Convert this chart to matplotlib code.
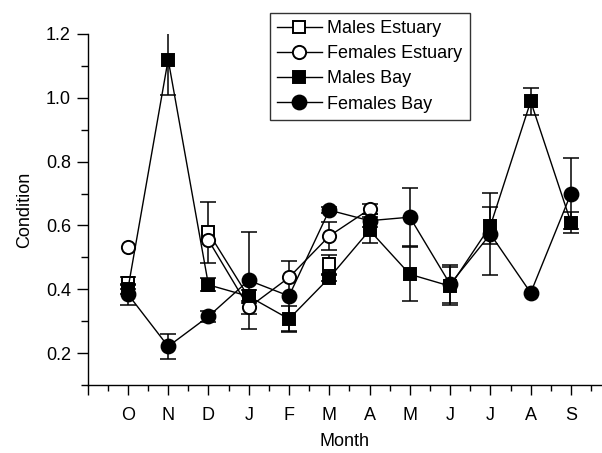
import numpy as np
import matplotlib
matplotlib.use("Agg")
import matplotlib.pyplot as plt
from matplotlib.ticker import MultipleLocator

plt.rcParams['font.family'] = ['Liberation Sans', 'DejaVu Sans']

months = ['O', 'N', 'D', 'J', 'F', 'M', 'A', 'M', 'J', 'J', 'A', 'S']
nan = np.nan

# condition values (nan = no sample)
males_est = [0.42, nan, 0.578, 0.375, nan, 0.478, nan, nan, nan, nan, nan, nan]
males_est_err = [0.02, nan, 0.095, nan, nan, 0.03, nan, nan, nan, nan, nan, nan]
females_est = [0.531, nan, 0.554, 0.343, 0.437, 0.567, 0.651, nan, nan, nan, nan, nan]
females_est_err = [nan, nan, nan, 0.02, nan, 0.045, 0.015, nan, nan, nan, nan, nan]
males_bay = [0.40, 1.12, 0.414, 0.378, 0.307, 0.436, 0.585, 0.447, 0.41, 0.599, 0.989, 0.609]
males_bay_err = [0.015, 0.11, 0.02, 0.02, 0.04, 0.01, 0.04, 0.085, 0.06, 0.058, 0.042, 0.033]
females_bay = [0.385, 0.221, 0.315, 0.428, 0.379, 0.648, 0.615, 0.626, 0.416, 0.573, 0.389, 0.70]
females_bay_err = [0.033, 0.04, 0.018, 0.153, 0.11, 0.01, 0.02, 0.09, 0.06, 0.128, nan, 0.11]

x = np.arange(1, len(months) + 1)

fig = plt.figure(figsize=(6.02, 4.53), dpi=100)
ax = fig.add_axes([0.1455, 0.150, 1 - 0.1455, 0.775])

series = [
    (males_est, males_est_err, 's', 'white', 8, 'Males Estuary'),
    (females_est, females_est_err, 'o', 'white', 9.5, 'Females Estuary'),
    (males_bay, males_bay_err, 's', 'black', 8, 'Males Bay'),
    (females_bay, females_bay_err, 'o', 'black', 10, 'Females Bay'),
]

for vals, err, mk, face, ms, lab in series:
    vals = np.array(vals)
    err = np.array(err)
    ax.errorbar(x, vals, yerr=err, fmt='none', ecolor='black', elinewidth=1.1,
                capsize=5.5, capthick=1.1, zorder=2)
    ax.plot(x, vals, color='black', lw=1.0, marker=mk, markersize=ms,
            markerfacecolor=face, markeredgecolor='black', markeredgewidth=1.4,
            label=lab, zorder=3)

ax.set_xlim(0, 12.77)
ax.set_ylim(0.1, 1.2)
ax.set_xticks(np.arange(0, 13))
ax.set_xticklabels([''] + months)
ax.xaxis.set_minor_locator(MultipleLocator(0.5))
ax.yaxis.set_minor_locator(MultipleLocator(0.1))
ax.set_yticks([0.2, 0.4, 0.6, 0.8, 1.0, 1.2])
ax.set_yticklabels(['0.2', '0.4', '0.6', '0.8', '1.0', '1.2'])

for s in ['top', 'right']:
    ax.spines[s].set_visible(False)
ax.spines['left'].set_linewidth(1.0)
ax.spines['bottom'].set_linewidth(1.0)

ax.tick_params(axis='y', which='major', direction='out', length=8, width=1, labelsize=13, pad=4)
ax.tick_params(axis='y', which='minor', direction='out', length=5, width=1)
ax.tick_params(axis='x', which='major', direction='out', length=7, width=1, labelsize=13, pad=9)
ax.tick_params(axis='x', which='minor', direction='out', length=4, width=1)

ax.set_xlabel('Month', fontsize=13, labelpad=6)
ax.set_ylabel('Condition', fontsize=13, labelpad=9)

leg = ax.legend(loc='upper left', bbox_to_anchor=(0.354, 1.06), fontsize=13,
                frameon=True, fancybox=False, handlelength=2.5, handletextpad=0.3,
                borderpad=0.4, labelspacing=0.45, borderaxespad=0)
leg.get_frame().set_edgecolor('black')
leg.get_frame().set_linewidth(1.0)

fig.savefig('out.png', dpi=100)
